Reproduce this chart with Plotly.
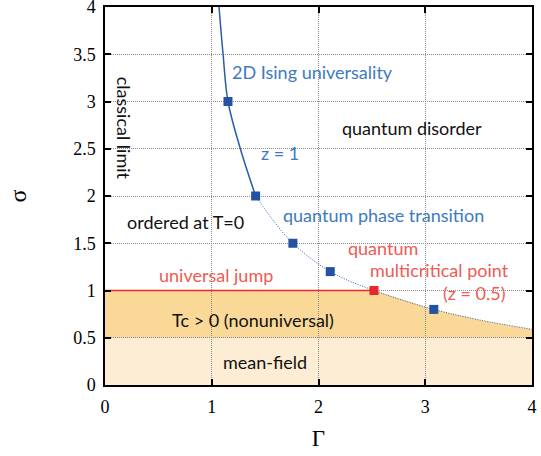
import plotly.graph_objects as go

# Phase boundary
solid_gamma = [1.068, 1.106, 1.152, 1.268, 1.411]
solid_sigma = [4.0, 3.5, 3.0, 2.5, 2.0]
dotted_gamma = [1.411, 1.57, 1.76, 2.11, 2.52, 3.08, 3.5, 4.0]
dotted_sigma = [2.0, 1.75, 1.5, 1.2, 1.0, 0.8, 0.69, 0.589]

# Simulation points
blue_gamma = [1.152, 1.411, 1.76, 2.11, 3.08]
blue_sigma = [3.0, 2.0, 1.5, 1.2, 0.8]
red_gamma = [2.52]
red_sigma = [1.0]

# Region boundaries
meanfield_sigma = 0.5
jump_sigma = 1.0
gamma_range = [0, 4]
sigma_range = [0, 4]
gamma_ticks = [0, 1, 2, 3, 4]
sigma_ticks = [0, 0.5, 1, 1.5, 2, 2.5, 3, 3.5, 4]
gamma_ticktext = ["0", "1", "2", "3", "4"]
sigma_ticktext = ["0", "0.5", "1", "1.5", "2", "2.5", "3", "3.5", "4"]

BLUE_LINE = "#2a5cae"
BLUE_PT = "#2352a3"
BLUE_TXT = "#3c7ac2"
RED = "#e8282a"
RED_TXT = "#f05a52"

fig = go.Figure()

# Filled regions (semi-transparent so the dotted grid shows through)
path = f"M {gamma_range[0]},{meanfield_sigma} L {gamma_range[0]},{jump_sigma} L {red_gamma[0]},{jump_sigma}"
for g, s in zip(dotted_gamma, dotted_sigma):
    if g > red_gamma[0]:
        path += f" L {g},{s}"
path += f" L {gamma_range[1]},{meanfield_sigma} Z"
fig.add_shape(type="path", path=path, fillcolor="rgba(243,177,49,0.5)", line_width=0, layer="below")
fig.add_shape(type="rect", x0=gamma_range[0], x1=gamma_range[1], y0=0, y1=meanfield_sigma,
              fillcolor="rgba(249,219,169,0.5)", line_width=0, layer="below")

# Universal jump line
fig.add_trace(go.Scatter(x=[gamma_range[0], red_gamma[0]], y=[jump_sigma, jump_sigma], mode="lines",
                         line=dict(color=RED, width=1.5), showlegend=False, hoverinfo="skip"))
# Curves
fig.add_trace(go.Scatter(x=solid_gamma, y=solid_sigma, mode="lines", line_shape="spline",
                         line=dict(color=BLUE_LINE, width=1.5), showlegend=False))
fig.add_trace(go.Scatter(x=dotted_gamma, y=dotted_sigma, mode="lines", line_shape="spline",
                         line=dict(color=BLUE_LINE, width=1, dash="1px,1.5px"), showlegend=False))
# Points
fig.add_trace(go.Scatter(x=blue_gamma, y=blue_sigma, mode="markers",
                         marker=dict(symbol="square", size=9, color=BLUE_PT), showlegend=False))
fig.add_trace(go.Scatter(x=red_gamma, y=red_sigma, mode="markers",
                         marker=dict(symbol="square", size=9, color=RED), showlegend=False))

labels = [
    ("2D Ising universality", 1.94, 3.31, BLUE_TXT, 0),
    ("quantum disorder", 2.88, 2.72, "#111111", 0),
    ("classical limit", 0.18, 2.72, "#111111", 90),
    ("z = 1", 1.64, 2.45, BLUE_TXT, 0),
    ("ordered at T=0", 0.755, 1.73, "#111111", 0),
    ("quantum phase transition", 2.61, 1.80, BLUE_TXT, 0),
    ("quantum", 2.60, 1.45, RED_TXT, 0),
    ("multicritical point", 3.13, 1.22, RED_TXT, 0),
    ("(z = 0.5)", 3.46, 0.97, RED_TXT, 0),
    ("universal jump", 1.04, 1.16, RED_TXT, 0),
    ("Tc > 0 (nonuniversal)", 1.39, 0.69, "#111111", 0),
    ("mean-field", 1.50, 0.24, "#111111", 0),
]
for t, x, y, c, rot in labels:
    fig.add_annotation(x=x, y=y, text=t, showarrow=False, textangle=rot,
                       font=dict(family="Lato", size=18, color=c))

eps = 1e-6
axis_common = dict(
    showline=True, linecolor="black", linewidth=1.5, mirror="ticks",
    ticks="inside", ticklen=6, tickcolor="black", tickwidth=1.5,
    showgrid=True, gridcolor="#8a8a8a", griddash="1px,1px", gridwidth=1,
    zeroline=False, automargin=False, ticklabeloverflow="allow",
    tickfont=dict(family="Liberation Serif", size=18, color="black"),
)
fig.update_xaxes(range=[gamma_range[0] - eps, gamma_range[1] + eps], tickvals=gamma_ticks, ticktext=gamma_ticktext,
                 ticklabelstandoff=5,
                 title=dict(text="Γ", font=dict(family="Liberation Serif", size=23, color="black"), standoff=14),
                 **axis_common)
fig.update_yaxes(range=[sigma_range[0] - eps, sigma_range[1] + eps], tickvals=sigma_ticks, ticktext=sigma_ticktext,
                 ticklabelstandoff=4,
                 title=dict(text="σ", font=dict(family="Liberation Serif", size=24, color="black"), standoff=40),
                 **axis_common)

fig.update_layout(width=541, height=456, margin=dict(l=105, r=9, t=7, b=71),
                  plot_bgcolor="white", paper_bgcolor="white")

fig.write_html("out.html", config={"displayModeBar": False},
               post_script="document.body.style.margin='0';document.body.style.overflow='hidden';")
